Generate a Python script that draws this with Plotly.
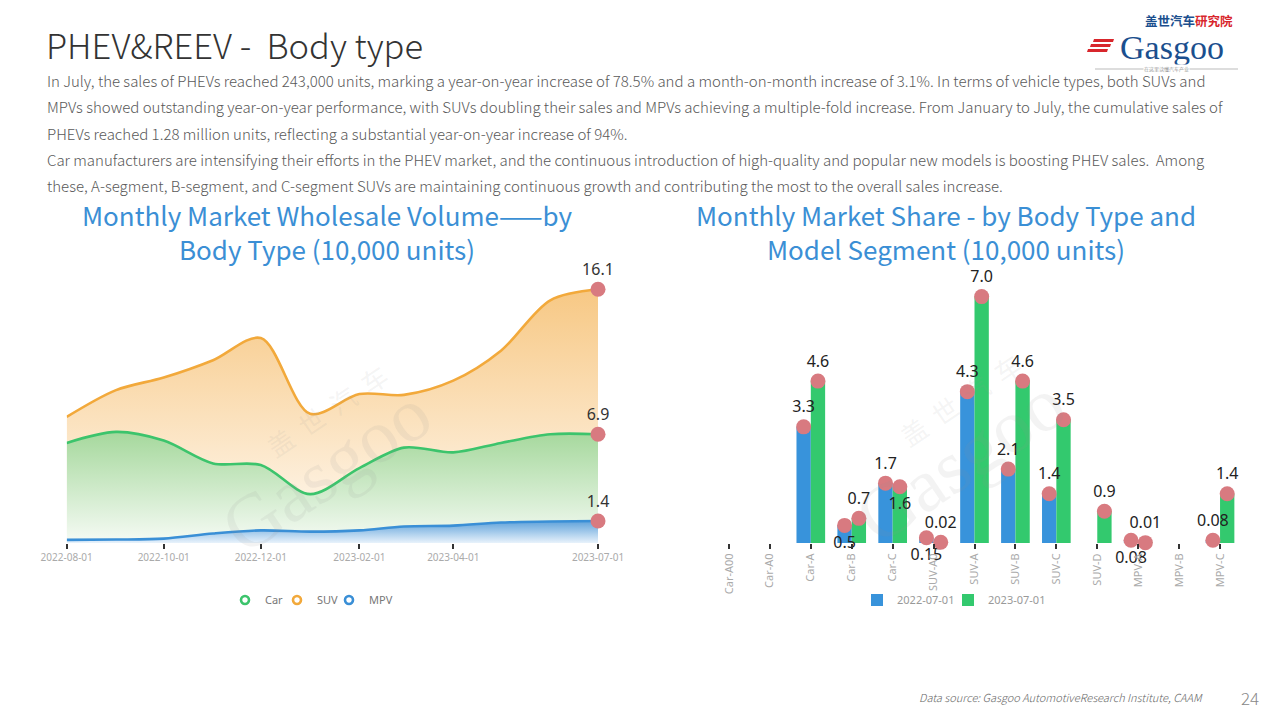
import plotly.graph_objects as go

# ---------------- data ----------------
months = ['2022-08-01', '2022-09-01', '2022-10-01', '2022-11-01', '2022-12-01', '2023-01-01',
          '2023-02-01', '2023-03-01', '2023-04-01', '2023-05-01', '2023-06-01', '2023-07-01']
suv = [8.0, 9.7, 10.5, 11.6, 13.0, 8.2, 9.45, 9.4, 10.3, 12.2, 15.4, 16.1]
car = [6.35, 7.05, 6.5, 5.05, 4.95, 3.1, 4.75, 6.05, 5.75, 6.35, 6.9, 6.9]
mpv = [0.2, 0.22, 0.28, 0.6, 0.8, 0.72, 0.8, 1.05, 1.1, 1.3, 1.36, 1.4]
month_ticks = ['2022-08-01', '2022-10-01', '2022-12-01', '2023-02-01', '2023-04-01', '2023-07-01']

segments = ['Car-A00', 'Car-A0', 'Car-A', 'Car-B', 'Car-C', 'SUV-A0', 'SUV-A', 'SUV-B',
            'SUV-C', 'SUV-D', 'MPV-A', 'MPV-B', 'MPV-C']
share_2022 = [None, None, 3.3, 0.5, 1.7, 0.15, 4.3, 2.1, 1.4, None, 0.08, None, 0.08]
share_2023 = [None, None, 4.6, 0.7, 1.6, 0.02, 7.0, 4.6, 3.5, 0.9, 0.01, None, 1.4]
period_names = ['2022-07-01', '2023-07-01']

# label placement (style only)
pos_2022 = ['top center', 'top center', 'top center', 'bottom center', 'top center', 'bottom center',
            'top center', 'top center', 'top center', 'top center', 'bottom center', 'top center', 'top center']
pos_2023 = ['top center', 'top center', 'top center', 'top center', 'bottom center', 'top center',
            'top center', 'top center', 'top center', 'top center', 'top center', 'top center', 'top center']

W, H = 1280, 720
OFF = 8  # page body margin of the rendered html
def px(x):
    return (x - OFF) / W
def py(y):
    return 1 - (y - OFF) / H

BLUE_T = '#3b8fd5'
C_SUV, C_CAR, C_MPV = '#f2a93b', '#3cc46c', '#3a8fd6'
B_BLUE, B_GREEN = '#3893db', '#33c96e'
DOT = '#d87a80'
FONT = 'Noto Sans CJK SC'

fig = go.Figure()

# ---------------- left chart: areas ----------------
series = [
    ('SUV', suv, C_SUV, [[0, 'rgb(255,250,244)'], [1, 'rgb(247,200,132)']]),
    ('Car', car, C_CAR, [[0, 'rgb(246,251,245)'], [1, 'rgb(165,216,156)']]),
    ('MPV', mpv, C_MPV, [[0, 'rgb(232,242,251)'], [1, 'rgb(95,162,218)']]),
]
for name, vals, col, cs in series:
    fig.add_trace(go.Scatter(
        x=months, y=vals, mode='lines', name=name, showlegend=False,
        line=dict(color=col, width=2.6, shape='spline', smoothing=0.9),
        fill='tozeroy',
        fillgradient=dict(type='vertical', colorscale=cs, start=0, stop=max(vals)),
        xaxis='x', yaxis='y', hoverinfo='skip'))

for name, vals, col, cs in series:
    fig.add_trace(go.Scatter(
        x=[months[-1]], y=[vals[-1]], mode='markers+text', showlegend=False,
        marker=dict(color=DOT, size=15), text=[f'{vals[-1]}'], textposition='top center',
        textfont=dict(family='Noto Sans', size=16, color='#333'), cliponaxis=False,
        xaxis='x', yaxis='y', hoverinfo='skip'))

# legend entries for left chart (one legend box per entry; value = symbol centre in px)
left_leg = [('Car', C_CAR, 'legend', 245), ('SUV', C_SUV, 'legend3', 297), ('MPV', C_MPV, 'legend4', 349)]
for name, col, lg, _ in left_leg:
    fig.add_trace(go.Scatter(
        x=[None], y=[None], mode='markers', name=name, legend=lg,
        marker=dict(symbol='circle-open', size=8, color=col, line=dict(width=2.6, color=col)),
        xaxis='x', yaxis='y'))

# ---------------- right chart: bars ----------------
idx = list(range(len(segments)))
right_leg = [('legend2', 877), ('legend5', 968)]
fig.add_trace(go.Bar(x=idx, y=share_2022, name=period_names[0], marker_color=B_BLUE,
                     marker_line_width=0, legend=right_leg[0][0], xaxis='x2', yaxis='y2', hoverinfo='skip'))
fig.add_trace(go.Bar(x=idx, y=share_2023, name=period_names[1], marker_color=B_GREEN,
                     marker_line_width=0, legend=right_leg[1][0], xaxis='x2', yaxis='y2', hoverinfo='skip'))

BARGAP = 0.3
half = (1 - BARGAP) / 4
for vals, sign, pos in [(share_2022, -1, pos_2022), (share_2023, 1, pos_2023)]:
    fig.add_trace(go.Scatter(
        x=[i + sign * half for i in idx], y=vals, mode='markers+text', showlegend=False,
        marker=dict(color=DOT, size=15),
        text=['' if v is None else f'{v}' for v in vals], textposition=pos,
        textfont=dict(family='Noto Sans', size=16, color='#222'), cliponaxis=False,
        xaxis='x2', yaxis='y2', hoverinfo='skip'))

# ---------------- layout ----------------
base_y = 543
top_y = 280
layout = dict(
    width=W, height=H, autosize=False,
    margin=dict(l=0, r=0, t=0, b=0, pad=0, autoexpand=False),
    paper_bgcolor='white', plot_bgcolor='rgba(0,0,0,0)',
    barmode='group', bargap=BARGAP, bargroupgap=0,
    font=dict(family=FONT, color='#333'),
    xaxis=dict(domain=[px(66.7), px(598)], type='date', range=[months[0], months[-1]],
               tickvals=month_ticks, ticktext=month_ticks, showgrid=False, zeroline=False,
               showline=False, ticks='outside', ticklen=5, tickwidth=1.5, tickcolor='#333',
               automargin=False,
               tickfont=dict(family='Noto Sans', size=10, color='#aaa')),
    yaxis=dict(domain=[py(base_y), py(top_y)], range=[0, (base_y - top_y) / 15.76], visible=False,
               automargin=False),
    xaxis2=dict(domain=[px(708.5), px(1240.5)], range=[-0.5, 12.5], tickvals=idx, ticktext=segments,
                tickangle=-90, showgrid=False, zeroline=False, showline=False, ticks='outside',
                ticklen=5, tickwidth=1.5, tickcolor='#333', anchor='y2', automargin=False,
                tickfont=dict(family='Noto Sans', size=11, color='#aaa')),
    yaxis2=dict(domain=[py(base_y), py(top_y)], range=[0, (base_y - top_y) / 35.2], visible=False,
                anchor='x2', automargin=False),
    showlegend=True,
)
for name, col, lg, sym_x in left_leg:
    layout[lg] = dict(orientation='h', x=px(sym_x - 20), y=py(600), xanchor='left', yanchor='middle',
                      font=dict(family='Noto Sans', size=11, color='#777'), bgcolor='rgba(0,0,0,0)',
                      itemclick=False, itemdoubleclick=False)
for lg, sym_x in right_leg:
    layout[lg] = dict(orientation='h', x=px(sym_x - 20), y=py(600), xanchor='left', yanchor='middle',
                      font=dict(family='Noto Sans', size=11, color='#999'), bgcolor='rgba(0,0,0,0)',
                      itemclick=False, itemdoubleclick=False)
fig.update_layout(**layout)

ann = []
# page title
ann.append(dict(x=px(44), y=py(44), xref='paper', yref='paper', xanchor='left', yanchor='middle',
                text='PHEV&amp;REEV -\u00a0\u00a0Body type', showarrow=False,
                font=dict(family=FONT, size=34.5, color='#333', weight=300)))
para = [
    'In July, the sales of PHEVs reached 243,000 units, marking a year-on-year increase of 78.5% and a month-on-month increase of 3.1%. In terms of vehicle types, both SUVs and',
    'MPVs showed outstanding year-on-year performance, with SUVs doubling their sales and MPVs achieving a multiple-fold increase. From January to July, the cumulative sales of',
    'PHEVs reached 1.28 million units, reflecting a substantial year-on-year increase of 94%.',
    'Car manufacturers are intensifying their efforts in the PHEV market, and the continuous introduction of high-quality and popular new models is boosting PHEV sales.  Among',
    'these, A-segment, B-segment, and C-segment SUVs are maintaining continuous growth and contributing the most to the overall sales increase.',
]
for k, line in enumerate(para):
    ann.append(dict(x=px(45), y=py(81 + 26 * k), xref='paper', yref='paper', xanchor='left',
                    yanchor='middle', text=line, showarrow=False,
                    font=dict(family=FONT, size=15, color='#595959', weight=300)))
# chart titles
titles = [
    (327, 'Monthly Market Wholesale Volume——by<br>Body Type (10,000 units)'),
    (946, 'Monthly Market Share - by Body Type and<br>Model Segment (10,000 units)'),
]
for cx, t in titles:
    ann.append(dict(x=px(cx), y=py(231), xref='paper', yref='paper', xanchor='center',
                    yanchor='middle', text=t, showarrow=False,
                    font=dict(family=FONT, size=26, color=BLUE_T)))
# watermarks
for cx, cy in [(318, 462), (952, 452)]:
    ann.append(dict(x=px(cx + 8), y=py(cy + 8), xref='paper', yref='paper', text='Gasgoo', showarrow=False,
                    xanchor='center', yanchor='middle', textangle=-34,
                    font=dict(family='Liberation Serif', size=76, color='rgba(150,150,150,0.11)')))
    ann.append(dict(x=px(cx + 8), y=py(cy - 52), xref='paper', yref='paper', text='盖  世  汽  车',
                    showarrow=False, xanchor='center', yanchor='middle', textangle=-34,
                    font=dict(family=FONT, size=26, color='rgba(150,150,150,0.11)')))
# logo
ann.append(dict(x=px(1172), y=py(47), xref='paper', yref='paper', xanchor='center', yanchor='middle',
                text='Gasgoo', showarrow=False,
                font=dict(family='Liberation Serif', size=34, color='#1b4f8e')))
ann.append(dict(x=px(1143), y=py(20), xref='paper', yref='paper', xanchor='left', yanchor='middle',
                text='<b>盖世汽车</b><b><span style="color:#d8262c">研究院</span></b>', showarrow=False,
                font=dict(family=FONT, size=12.5, color='#1b4f8e')))
ann.append(dict(x=px(1166), y=py(69), xref='paper', yref='paper', xanchor='center', yanchor='middle',
                text='在这里读懂汽车产业', showarrow=False, bgcolor='white', borderpad=0,
                font=dict(family=FONT, size=5, color='#999')))
# footer
ann.append(dict(x=px(1205), y=py(697), xref='paper', yref='paper', xanchor='right', yanchor='middle',
                text='<i>Data source: Gasgoo AutomotiveResearch Institute, CAAM</i>', showarrow=False,
                font=dict(family=FONT, size=11, color='#666', weight=300)))
ann.append(dict(x=px(1250), y=py(697), xref='paper', yref='paper', xanchor='center', yanchor='middle',
                text='24', showarrow=False, font=dict(family=FONT, size=17, color='#888', weight=300)))
fig.update_layout(annotations=ann)

shapes = [
    dict(type='line', xref='paper', yref='paper', x0=px(1095), x1=px(1238), y0=py(69), y1=py(69),
         line=dict(color='#bbb', width=1), layer='below'),
]
for k in range(3):
    y0 = 39 + 5 * k
    shapes.append(dict(type='path', xref='paper', yref='paper',
                       path=f'M {px(1094 - k*3)} {py(y0)} L {px(1114 - k*3)} {py(y0)} L {px(1113 - k*3)} {py(y0 + 3)} L {px(1093 - k*3)} {py(y0 + 3)} Z',
                       fillcolor='#d8262c', line=dict(width=0)))
fig.update_layout(shapes=shapes)

fig.write_html('out.html')
